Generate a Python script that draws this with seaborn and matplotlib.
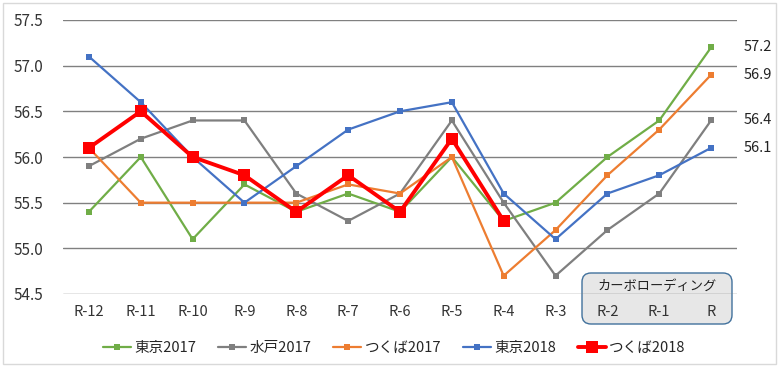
import numpy as np
import pandas as pd
import matplotlib
matplotlib.use("Agg")
import matplotlib.pyplot as plt
import seaborn as sns
from matplotlib.patches import FancyBboxPatch, Rectangle
from matplotlib.lines import Line2D

categories = ["R-12", "R-11", "R-10", "R-9", "R-8", "R-7", "R-6", "R-5", "R-4", "R-3", "R-2", "R-1", "R"]
series_names = ["東京2017", "水戸2017", "つくば2017", "東京2018", "つくば2018"]
tokyo2017 = [55.4, 56.0, 55.1, 55.7, 55.4, 55.6, 55.4, 56.0, 55.3, 55.5, 56.0, 56.4, 57.2]
mito2017 = [55.9, 56.2, 56.4, 56.4, 55.6, 55.3, 55.6, 56.4, 55.5, 54.7, 55.2, 55.6, 56.4]
tsukuba2017 = [56.1, 55.5, 55.5, 55.5, 55.5, 55.7, 55.6, 56.0, 54.7, 55.2, 55.8, 56.3, 56.9]
tokyo2018 = [57.1, 56.6, 56.0, 55.5, 55.9, 56.3, 56.5, 56.6, 55.6, 55.1, 55.6, 55.8, 56.1]
tsukuba2018 = [56.1, 56.5, 56.0, 55.8, 55.4, 55.8, 55.4, 56.2, 55.3, np.nan, np.nan, np.nan, np.nan]
y_ticks = [54.5, 55.0, 55.5, 56.0, 56.5, 57.0, 57.5]
end_labels = ["57.2", "56.9", "56.4", "56.1"]
box_label = "カーボローディング"

colors = ["#70AD47", "#7F7F7F", "#ED7D31", "#4472C4", "#FF0000"]
widths = [1.6, 1.6, 1.6, 1.6, 2.8]
msizes = [5, 5, 5, 5, 8]

sns.set_style("white")
plt.rcParams["font.family"] = ["Noto Sans CJK JP", "DejaVu Sans"]

fig = plt.figure(figsize=(7.81, 3.68), dpi=100)
ax = fig.add_axes([63 / 781, 74 / 368, 674 / 781, 274 / 368])

all_series = [tokyo2017, mito2017, tsukuba2017, tokyo2018, tsukuba2018]
xs = np.arange(len(categories))
for name, vals, c, lw, ms in zip(series_names, all_series, colors, widths, msizes):
    df = pd.DataFrame({"x": xs, "y": vals}).dropna()
    sns.lineplot(data=df, x="x", y="y", ax=ax, color=c, linewidth=lw,
                 marker="s", markersize=ms, markeredgewidth=0, legend=False,
                 zorder=5 if name == "つくば2018" else 3)

ax.set_xlim(-0.5, len(categories) - 0.5)
ax.set_ylim(54.5, 57.5)
ax.set_yticks(y_ticks)
ax.set_yticklabels([f"{v:.1f}" for v in y_ticks], fontsize=11, color="#333333")
ax.set_xticks(xs)
ax.set_xticklabels(categories, fontsize=10.5, color="#333333")
ax.tick_params(axis="y", length=0, pad=14)
ax.tick_params(axis="x", length=0, pad=8)
ax.set_xlabel("")
ax.set_ylabel("")
ax.grid(axis="y", color="#808080", linewidth=1.0)
ax.set_axisbelow(True)
for s in ax.spines.values():
    s.set_visible(False)

# end value labels
for lbl, v in zip(end_labels, [57.2, 56.9, 56.4, 56.1]):
    ax.annotate(lbl, xy=(len(categories) - 0.5, v), xytext=(5, 0), textcoords="offset points",
                ha="left", va="center", fontsize=10.5, color="#222222", annotation_clip=False)

# carbo-loading box
box = FancyBboxPatch((5.82, 0.44), 1.50, 0.51, boxstyle="round,pad=0,rounding_size=0.09",
                     transform=fig.dpi_scale_trans, facecolor="#E7E7E7", edgecolor="#41719C",
                     linewidth=1.0, clip_on=False, zorder=0.1)
ax.add_patch(box)
fig.text(6.57 / 7.81, 0.82 / 3.68, box_label, ha="center", va="center", fontsize=9.5, color="#222222")

# outer border
fig.patches.append(Rectangle((3 / 781, 4 / 368), 773 / 781, 361 / 368, transform=fig.transFigure,
                             fill=False, edgecolor="#D9D9D9", linewidth=1.0))

handles = [Line2D([0], [0], color=c, linewidth=lw, marker="s", markersize=ms, markeredgewidth=0)
           for c, lw, ms in zip(colors, widths, msizes)]
fig.legend(handles, series_names, loc="center", bbox_to_anchor=(0.505, 20 / 368), ncol=5,
           frameon=False, fontsize=10.5, handlelength=1.9, handletextpad=0.25, columnspacing=1.5)

fig.savefig("out.png", dpi=100)
